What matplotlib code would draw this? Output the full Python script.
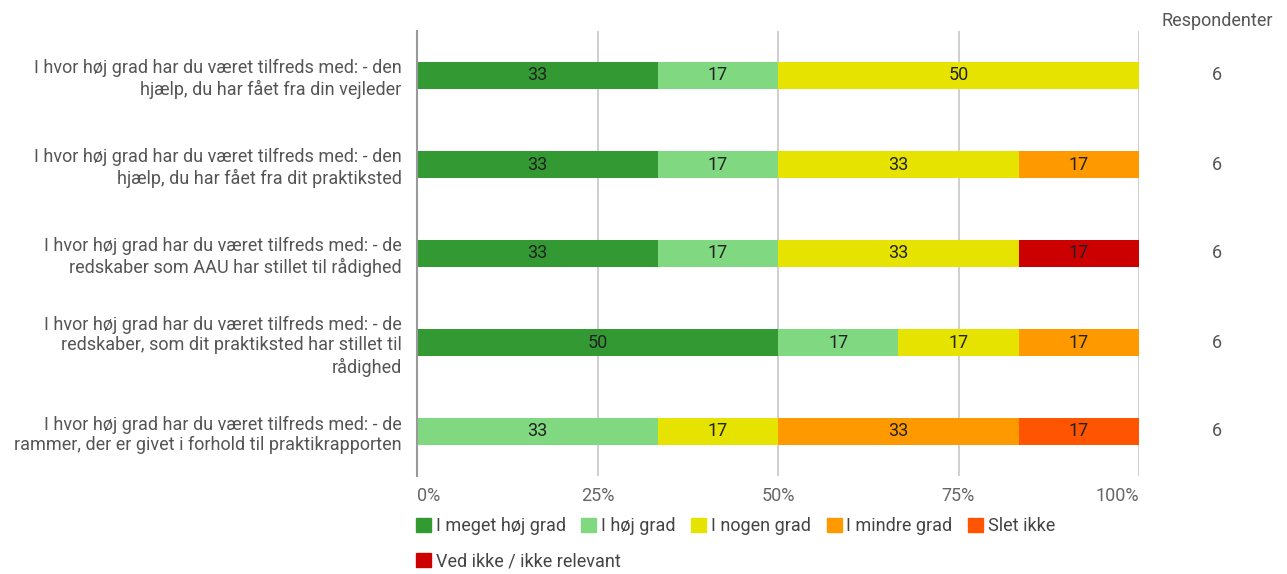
import matplotlib
matplotlib.use("Agg")
import matplotlib.pyplot as plt
from matplotlib.patches import Patch
import numpy as np

plt.rcParams['font.family'] = ['Roboto', 'DejaVu Sans']

questions = [
    "I hvor høj grad har du været tilfreds med: - den\nhjælp, du har fået fra din vejleder",
    "I hvor høj grad har du været tilfreds med: - den\nhjælp, du har fået fra dit praktiksted",
    "I hvor høj grad har du været tilfreds med: - de\nredskaber som AAU har stillet til rådighed",
    "I hvor høj grad har du været tilfreds med: - de\nredskaber, som dit praktiksted har stillet til\nrådighed",
    "I hvor høj grad har du været tilfreds med: - de\nrammer, der er givet i forhold til praktikrapporten",
]
answers = ["I meget høj grad", "I høj grad", "I nogen grad", "I mindre grad",
           "Slet ikke", "Ved ikke / ikke relevant"]
colors = ["#339a33", "#80d880", "#e6e300", "#ff9900", "#ff5500", "#cc0000"]

# antal svar pr. spørgsmål (rækker) og svarkategori (kolonner)
counts = np.array([
    [2, 1, 3, 0, 0, 0],
    [2, 1, 2, 1, 0, 0],
    [2, 1, 2, 0, 0, 1],
    [3, 1, 1, 1, 0, 0],
    [0, 2, 1, 2, 1, 0],
])
respondents = counts.sum(axis=1)
pct = counts / respondents[:, None] * 100

fs = 13
fig = plt.figure(figsize=(12.87, 5.74), dpi=100)
ax = fig.add_axes([417 / 1287, 1 - 476 / 574, 722 / 1287, 445 / 574])

y = np.arange(len(questions))
left = np.zeros(len(questions))
for j, name in enumerate(answers):
    bars = ax.barh(y, pct[:, j], left=left, height=0.31, color=colors[j], label=name, zorder=3)
    for i, b in enumerate(bars):
        if pct[i, j] > 0:
            ax.text(left[i] + pct[i, j] / 2, y[i], f"{pct[i, j]:.0f}", ha='center', va='center',
                    fontsize=fs, color='#222222', zorder=4)
    left += pct[:, j]

ax.set_xlim(0, 100)
ax.set_ylim(len(questions) - 0.5, -0.5)
ax.set_yticks(y)
ax.set_yticklabels(questions, fontsize=fs, color='#555555', ha='right', linespacing=1.2)
ax.tick_params(axis='y', length=0, pad=11)
ax.set_xticks([0, 25, 50, 75, 100])
ax.set_xticklabels(["0%", "25%", "50%", "75%", "100%"], fontsize=fs, color='#666666')
ax.tick_params(axis='x', length=0, pad=8)
xt = ax.get_xticklabels()
xt[0].set_ha('left')
xt[-1].set_ha('right')
ax.grid(axis='x', color='#cccccc', linewidth=1.3, zorder=0)
for s in ['top', 'right', 'bottom']:
    ax.spines[s].set_visible(False)
ax.spines['left'].set_color('#999999')
ax.spines['left'].set_linewidth(1.5)
ax.spines['left'].set_zorder(5)

# kolonne med antal respondenter
rx = (1217 - 417) / 722
ax.text(rx, 1.023, "Respondenter", transform=ax.transAxes, ha='center', va='center',
        fontsize=fs, color='#555555')
for i, n in enumerate(respondents):
    ax.text(rx, y[i], str(n), transform=ax.get_yaxis_transform(), ha='center', va='center',
            fontsize=fs, color='#555555')

handles = [Patch(facecolor=c, edgecolor=c) for c in colors]
leg_kw = dict(loc='center left', frameon=False, fontsize=fs, borderpad=0, borderaxespad=0,
              handlelength=0.83, handleheight=0.83, handletextpad=0.25, columnspacing=0.88,
              labelcolor='#444444')
fig.legend(handles[:5], answers[:5], ncol=5, bbox_to_anchor=(416 / 1287, 1 - 526 / 574), **leg_kw)
fig.legend(handles[5:], answers[5:], ncol=1, bbox_to_anchor=(416 / 1287, 1 - 561 / 574), **leg_kw)

fig.savefig("out.png", dpi=100)
